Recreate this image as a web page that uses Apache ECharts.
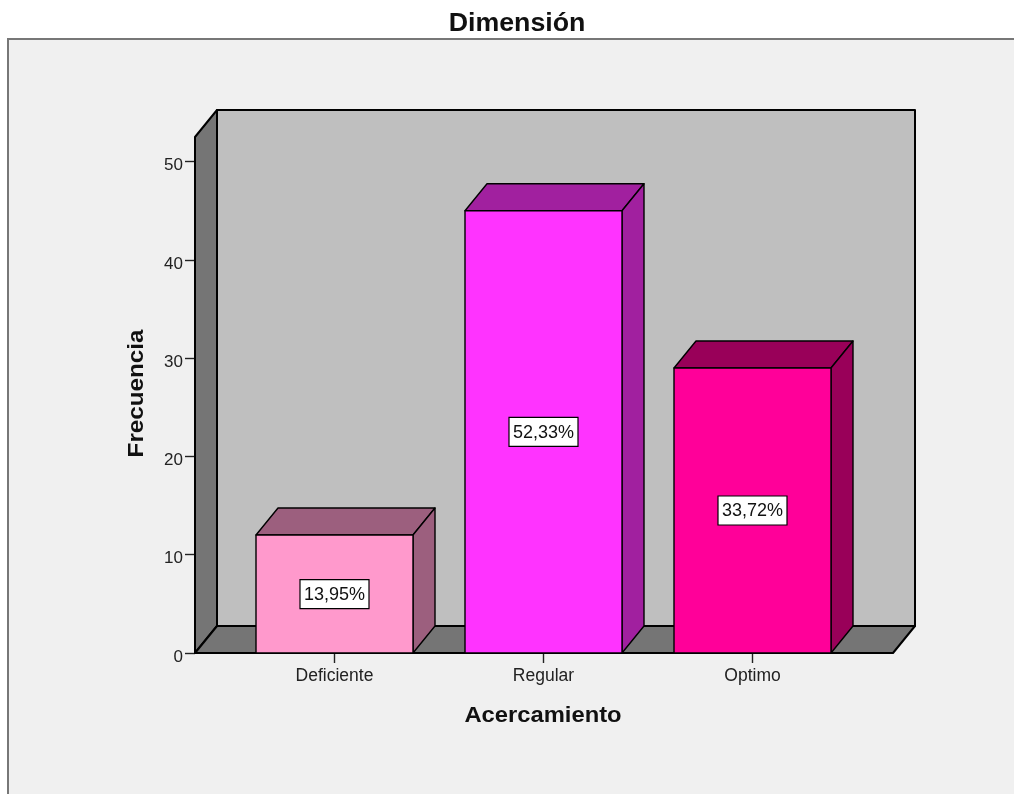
<!DOCTYPE html>
<html>
<head>
<meta charset="utf-8">
<style>
html, body { margin: 0; padding: 0; background: #fff; }
#chart { width: 1014px; height: 794px; }
</style>
<script src="https://cdn.jsdelivr.net/npm/echarts@6/dist/echarts.min.js"></script>
</head>
<body>
<div id="chart"></div>
<script>
// Frequency by approach level, with each level's share of the total as a label
const categories = ['Deficiente', 'Regular', 'Optimo'];
const frequencies = [12, 45, 29];
const percentLabels = ['13,95%', '52,33%', '33,72%'];
const yTicks = [0, 10, 20, 30, 40, 50];
const chartTitle = 'Dimensión';
const xAxisName = 'Acercamiento';
const yAxisName = 'Frecuencia';

const frontColors = ['#ff99cc', '#ff33ff', '#ff0099'];
const sideColors = ['#9c5f7e', '#a1209f', '#990059'];
const FONT = '"Liberation Sans", Arial, sans-serif';

// Oblique offset of the pseudo-3D depth, in pixels
const DEPTH_X = 22, DEPTH_Y = 27;
// The floor and walls extend past the outer category bands on each side
const WALL_PAD_LEFT = 35, WALL_PAD_RIGHT = 36;
const BAR_RATIO = 157 / 209;

const edge = { stroke: '#000', lineWidth: 1.4, lineJoin: 'round' };

function poly(points, fill, lineWidth) {
  return {
    type: 'polygon',
    shape: { points: points },
    style: Object.assign({}, edge, { fill: fill, lineWidth: lineWidth || edge.lineWidth })
  };
}

// Wide-set bold headings: horizontally stretched text, optionally turned for the vertical axis
function heading(text, x, y, size, stretch, rotation) {
  return {
    type: 'text', silent: true, z: 5,
    x: x, y: y, rotation: rotation || 0, scaleX: stretch,
    style: {
      x: 0, y: 0, text: text,
      align: 'center', verticalAlign: 'middle',
      font: 'bold ' + size + 'px ' + FONT, fill: '#111'
    }
  };
}

// Back wall, left wall and floor of the box
function renderBox(params, api) {
  const cs = params.coordSys;
  const l = cs.x - WALL_PAD_LEFT, r = cs.x + cs.width + WALL_PAD_RIGHT;
  const t = cs.y, b = cs.y + cs.height;
  const dx = DEPTH_X, dy = DEPTH_Y;
  return {
    type: 'group',
    children: [
      poly([[l + dx, t - dy], [r + dx, t - dy], [r + dx, b - dy], [l + dx, b - dy]], '#bfbfbf', 2),
      poly([[l, t], [l + dx, t - dy], [l + dx, b - dy], [l, b]], '#757575', 2),
      poly([[l, b], [l + dx, b - dy], [r + dx, b - dy], [r, b]], '#757575', 2)
    ]
  };
}

// One bar: front face, top face, right face and its centred percentage tag
function renderBar(params, api) {
  const idx = params.dataIndex;
  const top = api.coord([api.value(0), api.value(1)]);
  const base = api.coord([api.value(0), 0]);
  const w = api.size([1, 0])[0] * BAR_RATIO;
  const x0 = top[0] - w / 2, x1 = top[0] + w / 2;
  const dx = DEPTH_X, dy = DEPTH_Y;
  return {
    type: 'group',
    children: [
      poly([[x0, top[1]], [x0 + dx, top[1] - dy], [x1 + dx, top[1] - dy], [x1, top[1]]], sideColors[idx]),
      poly([[x1, top[1]], [x1 + dx, top[1] - dy], [x1 + dx, base[1] - dy], [x1, base[1]]], sideColors[idx]),
      poly([[x0, top[1]], [x1, top[1]], [x1, base[1]], [x0, base[1]]], frontColors[idx]),
      {
        type: 'rect',
        shape: { x: top[0] - 34.5, y: (top[1] + base[1]) / 2 - 14.5, width: 69, height: 29 },
        style: { fill: '#fff', stroke: '#000', lineWidth: 1.2 }
      },
      {
        type: 'text',
        style: {
          x: top[0], y: (top[1] + base[1]) / 2 + 1,
          text: percentLabels[idx],
          align: 'center', verticalAlign: 'middle',
          font: '18px ' + FONT, fill: '#111'
        }
      }
    ]
  };
}

const chart = echarts.init(document.getElementById('chart'), null, { renderer: 'canvas' });
chart.setOption({
  animation: false,
  backgroundColor: '#fff',
  graphic: [
    {
      type: 'rect', z: -10, silent: true,
      shape: { x: 8, y: 39, width: 1100, height: 900 },
      style: { fill: '#f0f0f0', stroke: '#777', lineWidth: 2 }
    },
    heading(chartTitle, 517, 24, 25, 1.07),
    heading(xAxisName, 543, 716, 22, 1.08),
    heading(yAxisName, 137, 393.5, 22, 1.1, Math.PI / 2)
  ],
  grid: { left: 230, width: 627, top: 137, height: 516 },
  xAxis: {
    type: 'category',
    data: categories,
    axisLine: { show: false },
    axisTick: { show: true, alignWithLabel: true, length: 10, lineStyle: { color: '#222', width: 1.4 } },
    axisLabel: { fontFamily: FONT, fontSize: 17.5, color: '#222', margin: 14 }
  },
  yAxis: {
    type: 'value',
    min: 0, max: 52.5, interval: 10,
    offset: WALL_PAD_LEFT,
    splitLine: { show: false },
    axisLine: { show: false },
    axisTick: { show: true, length: 10, customValues: yTicks, lineStyle: { color: '#222', width: 1.4 } },
    axisLabel: { fontFamily: FONT, fontSize: 17, color: '#222', margin: 12, verticalAlign: 'top', lineHeight: 8, customValues: yTicks }
  },
  series: [
    { type: 'custom', z: 1, silent: true, renderItem: renderBox, data: [[0, 0]], clip: false },
    {
      type: 'custom', z: 2, renderItem: renderBar, clip: false,
      encode: { x: 0, y: 1 },
      data: categories.map((c, i) => [i, frequencies[i]])
    }
  ]
});
</script>
</body>
</html>
